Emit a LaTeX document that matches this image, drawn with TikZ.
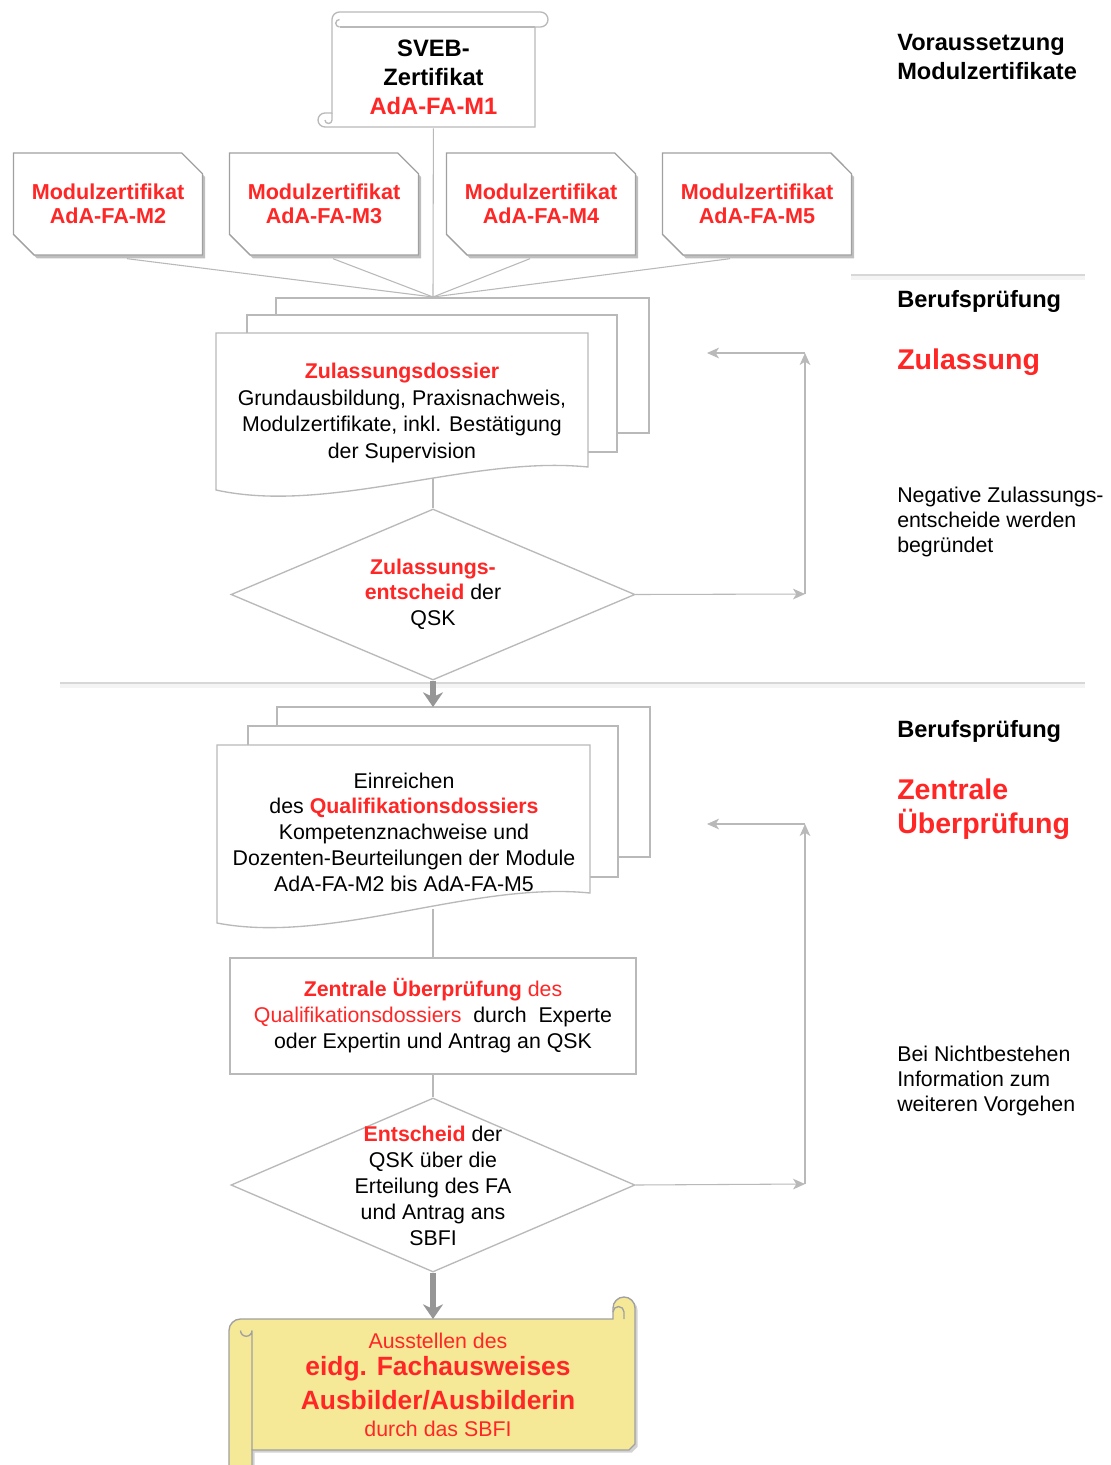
\documentclass[tikz,border=0pt]{standalone}
\usepackage{fontspec}
\setmainfont{Liberation Sans}
\usetikzlibrary{shapes.geometric,shapes.misc,arrows.meta,calc,shadows}
\definecolor{qskred}{RGB}{255,38,38}
\definecolor{linegray}{RGB}{185,185,185}
\definecolor{cardgray}{RGB}{160,160,160}
\definecolor{arrowgray}{RGB}{150,150,150}
\definecolor{rollyellow}{RGB}{245,233,152}
\definecolor{sepgray}{RGB}{215,215,215}

\begin{document}
\begin{tikzpicture}[x=0.75pt, y=-0.75pt,
    card/.style={chamfered rectangle, chamfered rectangle corners={north east,south west}, chamfered rectangle xsep=12pt, draw=cardgray, line width=1pt, fill=white, minimum width=141.75pt, minimum height=76.5pt, inner sep=0pt, align=center, text=qskred, font=\fontsize{16.2}{18}\selectfont\bfseries, drop shadow={shadow xshift=2pt, shadow yshift=-2.5pt, opacity=0.5}},
    sheet/.style={draw=linegray, line width=1pt, fill=white},
    decision/.style={diamond, draw=linegray, line width=1pt, fill=white, minimum width=303pt, minimum height=128.25pt, inner sep=0pt},
    txt/.style={align=center, inner sep=0pt, font=\fontsize{16}{19.5}\selectfont},
    side/.style={anchor=west, align=left, inner sep=0pt, font=\fontsize{17.7}{21.75}\selectfont\bfseries},
    big/.style={anchor=west, align=left, inner sep=0pt, text=qskred, font=\fontsize{21.4}{25.5}\selectfont\bfseries},
    note/.style={anchor=west, align=left, inner sep=0pt, font=\fontsize{16}{18.75}\selectfont},
    link/.style={draw=linegray, line width=0.8pt},
    back/.style={link, -{Stealth[length=9pt, width=8pt, inset=2.5pt]}},
    flow/.style={draw=arrowgray, line width=4pt, -{Stealth[length=11pt, width=15pt, inset=3.5pt]}},
    sep/.style={draw=sepgray, line width=1.5pt}
]

\path[use as bounding box, fill=white] (0,0) rectangle (1111,1465);

% Separators
\draw[sep] (851,275) -- (1085,275);
\draw[sep, line width=3pt, opacity=0.25] (851,278) -- (1085,278);
\draw[sep] (60,683) -- (1085,683);
\draw[sep, line width=3pt, opacity=0.25] (60,686) -- (1085,686);

% SVEB scroll
\filldraw[sheet] (339.5,12) -- (540.5,12) arc[start angle=270, end angle=450, radius=7.5] -- (535,27) -- (535,127) -- (325,127) arc[start angle=90, end angle=270, radius=7] -- (332,113) -- (332,19.5) arc[start angle=180, end angle=270, radius=7.5] -- cycle;
\draw[link, line width=1pt] (339.5,27) -- (535,27);
\draw[link, line width=1pt] (339.5,27) arc[start angle=90, end angle=270, radius=3.75];
\draw[link, line width=1pt] (332,113) -- (332,120) arc[start angle=0, end angle=180, radius=3.5];
\node[txt, minimum width=152.25pt, minimum height=75.75pt, font=\fontsize{17.8}{21.75}\selectfont\bfseries] (sveb) at (433.5,77.5) {SVEB-\\Zertifikat\\\textcolor{qskred}{AdA-FA-M1}};

% Module certificates
\node[card] (m2) at (108,204) {Modulzertifikat\\AdA-FA-M2};
\node[card] (m3) at (324,204) {Modulzertifikat\\AdA-FA-M3};
\node[card] (m4) at (541,204) {Modulzertifikat\\AdA-FA-M4};
\node[card] (m5) at (757,204) {Modulzertifikat\\AdA-FA-M5};

\coordinate (hub) at (433,297);
\draw[link] (sveb) -- (hub);
\draw[link] ($(m2.south)+(19,3)$) -- (hub);
\draw[link] ($(m3.south)+(9,3)$) -- (hub);
\draw[link] ($(m4.south)+(-11,3)$) -- (hub);
\draw[link] ($(m5.south)+(-27,3)$) -- (hub);

% Zulassungsdossier stack
\draw[sheet] (276,298) rectangle (649,433);
\draw[sheet] (247,315) rectangle (617,452);
\draw[sheet] (216,333) -- (588,333) -- (588,467) .. controls (470,455) and (330,515) .. (216,490) -- cycle;
\node[txt, font=\fontsize{16}{20}\selectfont] (zdoss) at (402,413) {\textcolor{qskred}{\bfseries Zulassungsdossier}\\Grundausbildung, Praxisnachweis,\\Modulzertifikate, inkl. Bestätigung\\der Supervision};
\coordinate (zwave) at (433,478);

% Zulassungsentscheid
\node[decision] (zent) at (433,594.5) {};
\node[txt, font=\fontsize{16}{19}\selectfont] (zenttxt) at (433,594) {\textcolor{qskred}{\bfseries Zulassungs-}\\\textcolor{qskred}{\bfseries entscheid} der\\QSK};
\draw[link] (zwave) -- (zent.north);

% feedback Zulassung
\coordinate (zr) at (805,594);
\coordinate (zu) at (805,353);
\coordinate (zl) at (707,353);
\draw[back] (zent.east) -- (zr);
\draw[back] (zr) -- (zu);
\draw[back] (zu) -- (zl);

% Qualifikationsdossier stack
\draw[sheet] (277,707) rectangle (650,857);
\draw[sheet] (248,726) rectangle (618,877);
\draw[sheet] (217,745) -- (590,745) -- (590,893) .. controls (472,881) and (331,945) .. (217,923) -- cycle;
\node[txt, font=\fontsize{16}{19.3}\selectfont] (qdoss) at (404,832) {Einreichen\\des \textcolor{qskred}{\bfseries Qualifikationsdossiers}\\Kompetenznachweise und\\Dozenten-Beurteilungen der Module\\AdA-FA-M2 bis AdA-FA-M5};
\coordinate (qtop) at (433,707);
\coordinate (qwave) at (433,909);
\draw[flow] (zent.south) -- (qtop);

% Zentrale Ueberpruefung
\node[txt, draw=linegray, line width=1pt, fill=white, minimum width=304.5pt, minimum height=87pt] (zpruef) at (433,1016) {\textcolor{qskred}{\bfseries Zentrale Überprüfung} \textcolor{qskred}{des}\\\textcolor{qskred}{Qualifikationsdossiers}\ \ durch\ \ Experte\\oder Expertin und Antrag an QSK};
\draw[link] (qwave) -- (zpruef);

% Entscheid
\node[decision, minimum height=130.5pt] (erteil) at (433,1185) {};
\node[txt] (erteiltxt) at (433,1186) {\textcolor{qskred}{\bfseries Entscheid} der\\QSK über die\\Erteilung des FA\\und Antrag ans\\SBFI};
\draw[link] (zpruef) -- (erteil.north);

% feedback Ueberpruefung
\coordinate (er) at (805,1184);
\coordinate (eu) at (805,824);
\coordinate (el) at (707,824);
\draw[back] (erteil.east) -- (er);
\draw[back] (er) -- (eu);
\draw[back] (eu) -- (el);

% Fachausweis scroll
\filldraw[sheet, draw=cardgray, fill=rollyellow, drop shadow={shadow xshift=2pt, shadow yshift=-2pt, opacity=0.35}] (229,1480) -- (229,1330.5) arc[start angle=180, end angle=270, radius=11.5] -- (613,1319) -- (613,1308) arc[start angle=180, end angle=360, radius=11] -- (635,1444) -- (629,1450) -- (252,1450) -- (252,1480) -- cycle;
\draw[draw=cardgray, line width=1pt] (252,1450) -- (252,1330.5) arc[start angle=0, end angle=180, radius=5.75];
\draw[draw=cardgray, line width=1pt] (624,1319) -- (624,1312) arc[start angle=0, end angle=-180, radius=5.5];
\node[txt, text=qskred, font=\fontsize{16}{20.25}\selectfont] (fa) at (438,1385) {Ausstellen des\\{\fontsize{19.8}{20.25}\selectfont\bfseries eidg. Fachausweises}\\[5.25pt]{\fontsize{19.8}{20.25}\selectfont\bfseries Ausbilder/Ausbilderin}\\durch das SBFI};
\coordinate (fatop) at (433,1319);
\draw[flow] (erteil.south) -- (fatop);

% Side labels
\node[side] (vor) at (897,56.5) {Voraussetzung\\Modulzertifikate};
\node[side] (bp1) at (897,301) {Berufsprüfung};
\node[big] (zul) at (897,362) {Zulassung};
\node[note] (neg) at (897,522) {Negative Zulassungs-\\entscheide werden\\begründet};
\node[side] (bp2) at (897,731) {Berufsprüfung};
\node[big] (zen) at (897,809) {Zentrale\\Überprüfung};
\node[note] (bei) at (897,1081) {Bei Nichtbestehen\\Information zum\\weiteren Vorgehen};

\end{tikzpicture}
\end{document}
